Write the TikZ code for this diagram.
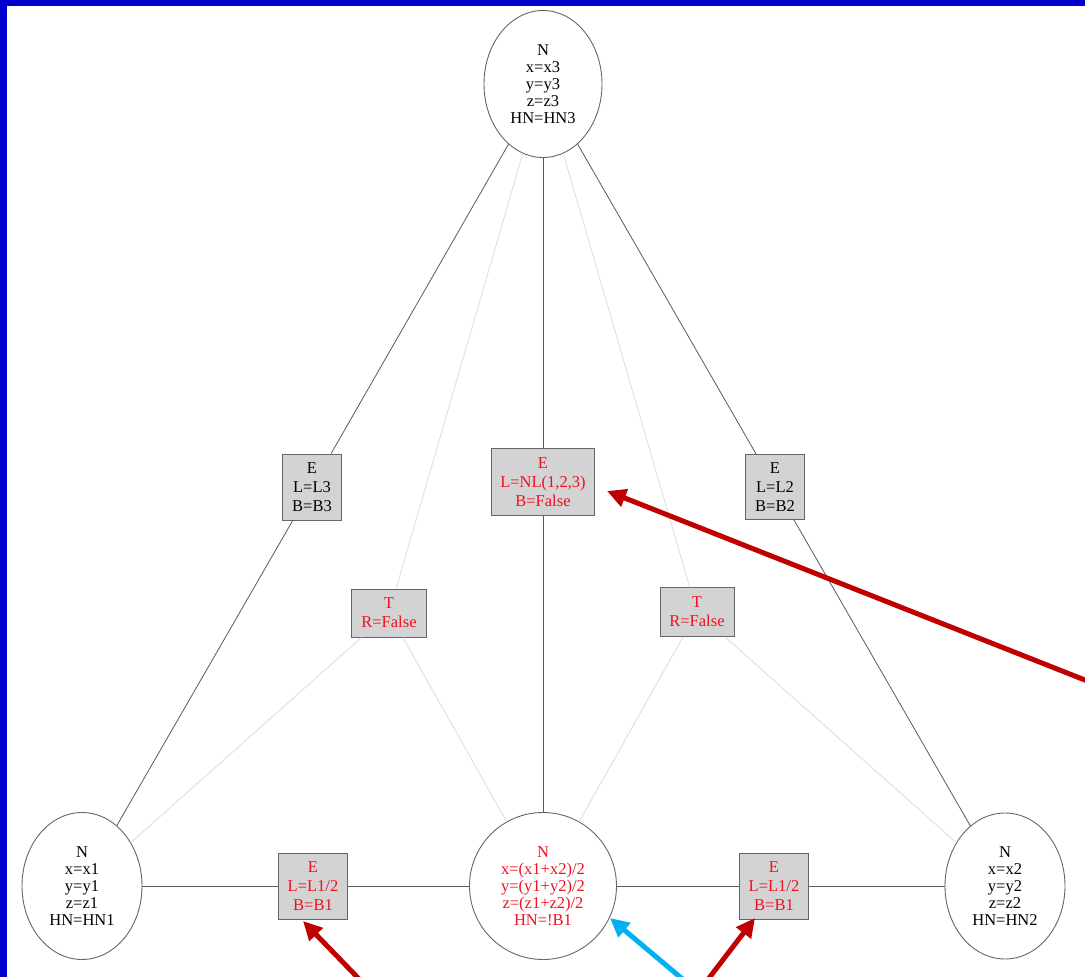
\documentclass[tikz,border=0pt]{standalone}
\usepackage{fontspec}
\setmainfont{Liberation Serif}
\usetikzlibrary{shapes.geometric,arrows.meta}
\definecolor{frameblue}{HTML}{0000CC}
\definecolor{edgegray}{HTML}{5A5A5A}
\definecolor{softgray}{HTML}{DCDCDC}
\definecolor{boxfill}{HTML}{D3D3D3}
\definecolor{boxline}{HTML}{666666}
\definecolor{txtred}{HTML}{F01020}
\definecolor{markred}{HTML}{C00000}
\definecolor{markcyan}{HTML}{00B0F0}
\tikzset{
  vert/.style={ellipse, draw=boxline, line width=0.9pt, fill=white, inner sep=0pt,
    align=center, font=\fontsize{16.5}{17}\selectfont},
  ebox/.style={rectangle, draw=boxline, line width=1pt, fill=boxfill, inner sep=0pt,
    align=center, font=\fontsize{16.5}{19}\selectfont},
  redtext/.style={text=txtred},
  mainedge/.style={draw=edgegray, line width=0.8pt},
  softedge/.style={draw=softgray, line width=0.8pt},
  pointer/.style={line width=5pt, -{Triangle[length=19pt,width=18pt]}},
}
\begin{document}
\begin{tikzpicture}[x=1pt,y=-1pt]
  \useasboundingbox (0,0) rectangle (1085,977);
  \fill[white] (0,0) rectangle (1085,977);
  \fill[frameblue] (0,0) rectangle (7,977);
  \fill[frameblue] (0,0) rectangle (1085,6);

  % vertices
  \node[vert, minimum width=118pt, minimum height=147pt] (n3) at (543,84)
    {N\\x=x3\\y=y3\\z=z3\\HN=HN3};
  \node[vert, minimum width=120pt, minimum height=147pt] (n1) at (82,886)
    {N\\x=x1\\y=y1\\z=z1\\HN=HN1};
  \node[vert, minimum width=120pt, minimum height=146pt] (n2) at (1005,886)
    {N\\x=x2\\y=y2\\z=z2\\HN=HN2};
  \node[vert, redtext, minimum width=147pt, minimum height=147pt] (nm) at (543,886)
    {N\\x=(x1+x2)/2\\y=(y1+y2)/2\\z=(z1+z2)/2\\HN=!B1};

  % edge records
  \node[ebox, minimum width=59pt, minimum height=66pt] (e13) at (312,487) {E\\L=L3\\B=B3};
  \node[ebox, redtext, minimum width=103pt, minimum height=67pt] (enl) at (543,482) {E\\L=NL(1,2,3)\\B=False};
  \node[ebox, minimum width=59pt, minimum height=65pt] (e23) at (775,487) {E\\L=L2\\B=B2};
  \node[ebox, redtext, minimum width=69pt, minimum height=66pt] (e1m) at (313,886) {E\\L=L1/2\\B=B1};
  \node[ebox, redtext, minimum width=69pt, minimum height=66pt] (em2) at (774,886) {E\\L=L1/2\\B=B1};

  % triangle records
  \node[ebox, redtext, minimum width=75pt, minimum height=48pt] (tl) at (389,613) {T\\R=False};
  \node[ebox, redtext, minimum width=74pt, minimum height=49pt] (tr) at (697,612) {T\\R=False};

  % connectors
  \path[softedge] (n3) -- (tl);
  \path[softedge] (n3) -- (tr);
  \path[softedge] (tl) -- (n1);
  \path[softedge] (tl) -- (nm);
  \path[softedge] (tr) -- (nm);
  \path[softedge] (tr) -- (n2);
  \path[mainedge] (n3) -- (e13);
  \path[mainedge] (e13) -- (n1);
  \path[mainedge] (n3) -- (enl);
  \path[mainedge] (enl) -- (nm);
  \path[mainedge] (n3) -- (e23);
  \path[mainedge] (e23) -- (n2);
  \path[mainedge] (n1) -- (e1m);
  \path[mainedge] (e1m) -- (nm);
  \path[mainedge] (nm) -- (em2);
  \path[mainedge] (em2) -- (n2);

  % highlight pointers
  \coordinate (srcA) at (1095,684);
  \coordinate (srcB) at (362,982);
  \coordinate (srcC) at (686,982);
  \coordinate (srcD) at (706,982);
  \coordinate (tipA) at (607,491);
  \coordinate (tipB) at (303,921);
  \coordinate (tipC) at (610,918);
  \coordinate (tipD) at (755,918);
  \begin{scope}
    \clip (0,0) rectangle (1085,977);
    \draw[pointer, markred] (srcA) -- (tipA);
    \draw[pointer, markred] (srcB) -- (tipB);
    \draw[pointer, markcyan] (srcC) -- (tipC);
    \draw[pointer, markred] (srcD) -- (tipD);
  \end{scope}
\end{tikzpicture}
\end{document}
